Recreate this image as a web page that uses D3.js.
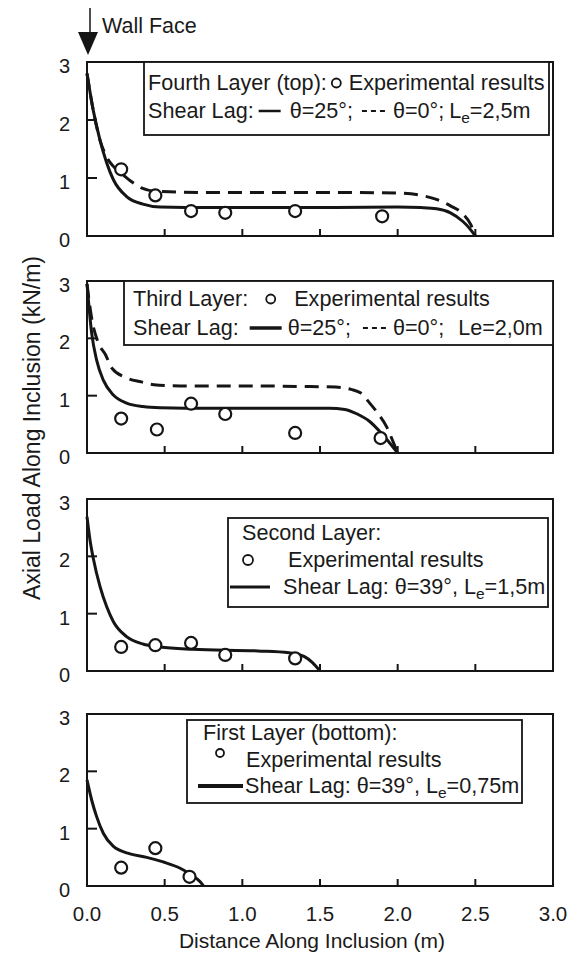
<!DOCTYPE html>
<html><head><meta charset="utf-8">
<script src="https://cdn.jsdelivr.net/npm/d3@7"></script>
<style>
html,body{margin:0;padding:0;background:#fff;}
svg{display:block;font-family:"Liberation Sans",Arial,Helvetica,sans-serif;}
text{fill:#1a1a1a;}
</style></head>
<body>
<svg id="c" width="571" height="955"></svg>
<script>
// ---------- data ----------
const xTicks = [0.0, 0.5, 1.0, 1.5, 2.0, 2.5, 3.0];
const yTicks = [0, 1, 2, 3];
const xTickLabels = ["0.0", "0.5", "1.0", "1.5", "2.0", "2.5", "3.0"];
const yTickLabels = ["0", "1", "2", "3"];

// Fourth layer (top)
const l4ExpX = [0.22, 0.44, 0.67, 0.89, 1.34, 1.90];
const l4ExpY = [1.15, 0.70, 0.43, 0.40, 0.43, 0.34];
const l4SolidX = [0, 0.04, 0.084, 0.127, 0.17, 0.255, 0.36, 0.47, 0.8, 1.2, 1.6, 2.0, 2.15, 2.25, 2.34, 2.42, 2.46, 2.5];
const l4SolidY = [2.8, 2.17, 1.65, 1.26, 0.97, 0.68, 0.55, 0.50, 0.49, 0.49, 0.49, 0.50, 0.49, 0.47, 0.40, 0.25, 0.14, 0.0];
const l4DashX = [0, 0.04, 0.084, 0.127, 0.17, 0.23, 0.29, 0.35, 0.45, 0.8, 1.2, 1.6, 2.0, 2.15, 2.25, 2.34, 2.42, 2.47, 2.5];
const l4DashY = [2.8, 2.17, 1.65, 1.36, 1.20, 1.06, 0.93, 0.83, 0.77, 0.75, 0.75, 0.75, 0.74, 0.70, 0.63, 0.52, 0.38, 0.20, 0.0];

// Third layer
const l3ExpX = [0.22, 0.45, 0.67, 0.89, 1.34, 1.89];
const l3ExpY = [0.60, 0.41, 0.86, 0.68, 0.35, 0.26];
const l3SolidX = [0, 0.03, 0.062, 0.105, 0.17, 0.255, 0.36, 0.47, 0.8, 1.2, 1.56, 1.66, 1.74, 1.82, 1.89, 1.95, 2.0];
const l3SolidY = [2.95, 2.09, 1.62, 1.27, 1.01, 0.87, 0.81, 0.79, 0.78, 0.78, 0.78, 0.76, 0.68, 0.55, 0.36, 0.17, 0.0];
const l3DashX = [0, 0.03, 0.07, 0.12, 0.16, 0.255, 0.35, 0.43, 0.6, 1.0, 1.4, 1.6, 1.7, 1.76, 1.82, 1.87, 1.93, 1.97, 2.0];
const l3DashY = [2.95, 2.35, 1.94, 1.71, 1.48, 1.31, 1.24, 1.19, 1.17, 1.17, 1.16, 1.15, 1.11, 1.05, 0.87, 0.70, 0.45, 0.20, 0.0];

// Second layer
const l2ExpX = [0.22, 0.44, 0.67, 0.89, 1.34];
const l2ExpY = [0.42, 0.45, 0.49, 0.28, 0.22];
const l2SolidX = [0, 0.019, 0.04, 0.084, 0.127, 0.17, 0.255, 0.36, 0.47, 0.68, 1.1, 1.3, 1.4, 1.45, 1.5];
const l2SolidY = [2.69, 2.29, 1.97, 1.47, 1.12, 0.86, 0.60, 0.47, 0.42, 0.38, 0.35, 0.32, 0.25, 0.15, 0.0];

// First layer (bottom)
const l1ExpX = [0.22, 0.44, 0.66];
const l1ExpY = [0.32, 0.66, 0.16];
const l1SolidX = [0, 0.03, 0.062, 0.105, 0.17, 0.277, 0.384, 0.49, 0.6, 0.674, 0.73, 0.75];
const l1SolidY = [1.85, 1.50, 1.21, 0.92, 0.69, 0.56, 0.50, 0.42, 0.31, 0.19, 0.07, 0.0];

// ---------- layout ----------
const svg = d3.select("#c");
const INK = "#151515";
const FS = 21.6;
const x = d3.scaleLinear().domain([0, 3]).range([87, 553]);

const panels = [
  { top: 62, bottom: 236, exp: [l4ExpX, l4ExpY], solid: [l4SolidX, l4SolidY], dash: [l4DashX, l4DashY] },
  { top: 281, bottom: 453, exp: [l3ExpX, l3ExpY], solid: [l3SolidX, l3SolidY], dash: [l3DashX, l3DashY] },
  { top: 499, bottom: 671, exp: [l2ExpX, l2ExpY], solid: [l2SolidX, l2SolidY] },
  { top: 714, bottom: 886, exp: [l1ExpX, l1ExpY], solid: [l1SolidX, l1SolidY] }
];

const zip = (a, b) => a.map((v, i) => [v, b[i]]);

panels.forEach((p) => {
  const y = d3.scaleLinear().domain([0, 3]).range([p.bottom, p.top]);
  const g = svg.append("g");
  g.append("rect").attr("x", x(0)).attr("y", y(3)).attr("width", x(3) - x(0)).attr("height", y(0) - y(3))
    .attr("fill", "none").attr("stroke", INK).attr("stroke-width", 2);
  g.selectAll(".xt").data(xTicks.filter(v => v > 0 && v < 3)).enter().append("line")
    .attr("x1", d => x(d)).attr("x2", d => x(d)).attr("y1", y(0)).attr("y2", y(0) - 7)
    .attr("stroke", INK).attr("stroke-width", 2);
  g.selectAll(".yt").data(yTicks.filter(v => v > 0 && v < 3)).enter().append("line")
    .attr("x1", x(0)).attr("x2", x(0) + 10).attr("y1", d => y(d)).attr("y2", d => y(d))
    .attr("stroke", INK).attr("stroke-width", 2);
  g.selectAll(".yl").data(yTicks).enter().append("text")
    .attr("x", 70).attr("y", d => y(d) + 11).attr("text-anchor", "end")
    .style("font-size", "20px").text((d, i) => yTickLabels[i]);

  const line = d3.line().x(d => x(d[0])).y(d => y(d[1])).curve(d3.curveMonotoneX);
  if (p.dash) {
    g.append("path").attr("d", line(zip(p.dash[0], p.dash[1])))
      .attr("fill", "none").attr("stroke", INK).attr("stroke-width", 3)
      .attr("stroke-dasharray", "14,8");
  }
  g.append("path").attr("d", line(zip(p.solid[0], p.solid[1])))
    .attr("fill", "none").attr("stroke", INK).attr("stroke-width", 3);
  g.selectAll(".pt").data(zip(p.exp[0], p.exp[1])).enter().append("circle")
    .attr("cx", d => x(d[0])).attr("cy", d => y(d[1])).attr("r", 6)
    .attr("fill", "#fff").attr("stroke", INK).attr("stroke-width", 2.2);
});

// x tick labels (bottom panel only)
svg.selectAll(".xl").data(xTicks).enter().append("text")
  .attr("x", d => x(d)).attr("y", 921).attr("text-anchor", "middle")
  .style("font-size", "20.5px").text((d, i) => xTickLabels[i]);

// axis titles
svg.append("text").attr("x", 312).attr("y", 948).attr("text-anchor", "middle")
  .style("font-size", "21px").text("Distance Along Inclusion (m)");
svg.append("text").attr("transform", "translate(40,428) rotate(-90)").attr("text-anchor", "middle")
  .style("font-size", "23px").text("Axial Load Along Inclusion (kN/m)");

// Wall face marker
svg.append("line").attr("x1", 90).attr("x2", 90).attr("y1", 8).attr("y2", 34)
  .attr("stroke", INK).attr("stroke-width", 1.5);
svg.append("path").attr("d", "M78,32 L98,32 L88,55 Z").attr("fill", INK);
svg.append("text").attr("x", 102).attr("y", 33).style("font-size", "21.5px").text("Wall Face");

// ---------- legends ----------
function box(x0, y0, x1, y1) {
  svg.append("rect").attr("x", x0).attr("y", y0).attr("width", x1 - x0).attr("height", y1 - y0)
    .attr("fill", "#fff").attr("stroke", INK).attr("stroke-width", 1.8);
}
function flow(x0, yb, parts) {
  let cx = x0;
  parts.forEach(p => {
    if (p.t !== undefined) {
      const t = svg.append("text").attr("x", cx).attr("y", yb + (p.sub ? 5 : 0))
        .style("font-size", (p.sub ? 15.5 : FS) + "px").text(p.t);
      cx += t.node().getComputedTextLength();
    } else if (p.line) {
      svg.append("line").attr("x1", cx).attr("x2", cx + p.line).attr("y1", yb - 7).attr("y2", yb - 7)
        .attr("stroke", INK).attr("stroke-width", p.sw || 3).attr("stroke-dasharray", p.dash || null);
      cx += p.line;
    } else if (p.circle) {
      svg.append("circle").attr("cx", cx + p.circle).attr("cy", yb - (p.cy || 7)).attr("r", p.circle)
        .attr("fill", "none").attr("stroke", INK).attr("stroke-width", 1.8);
      cx += 2 * p.circle;
    } else if (p.gap) {
      cx += p.gap;
    }
  });
}

// Panel 1 legend
box(144, 62, 549, 135);
flow(148, 90, [{ t: "Fourth Layer (top):" }, { gap: 5 }, { circle: 4.5 }, { gap: 8 }, { t: "Experimental results" }]);
flow(148, 118, [{ t: "Shear Lag:" }, { gap: 5 }, { line: 22, sw: 2.5 }, { gap: 9 }, { t: "θ=25°;" }, { gap: 9 },
  { line: 26, sw: 2, dash: "5,4" }, { gap: 5 }, { t: "θ=0°;" }, { gap: 5 }, { t: "L" }, { t: "e", sub: true }, { t: "=2,5m" }]);

// Panel 2 legend
box(124, 281, 553, 345);
flow(133, 306, [{ t: "Third Layer:" }, { gap: 18 }, { circle: 4.5 }, { gap: 19 }, { t: "Experimental results" }]);
flow(133, 335, [{ t: "Shear Lag:" }, { gap: 11 }, { line: 32, sw: 3.5 }, { gap: 6 }, { t: "θ=25°;" }, { gap: 12 },
  { line: 27, sw: 2, dash: "5,4" }, { gap: 3 }, { t: "θ=0°;" }, { gap: 14 }, { t: "Le=2,0m" }]);

// Panel 3 legend
box(228, 518, 548, 607);
flow(242, 540, [{ t: "Second Layer:" }]);
flow(243, 567, [{ circle: 5 }, { gap: 35 }, { t: "Experimental results" }]);
flow(230, 594, [{ line: 40, sw: 3 }, { gap: 13 }, { t: "Shear Lag: θ=39°, L" }, { t: "e", sub: true }, { t: "=1,5m" }]);

// Panel 4 legend
box(187, 720, 522, 803);
flow(203, 740, [{ t: "First Layer (bottom):" }]);
flow(216, 767, [{ circle: 4, cy: 14 }, { gap: 22 }, { t: "Experimental results" }]);
flow(198, 793, [{ line: 45, sw: 4 }, { gap: 2 }, { t: "Shear Lag: θ=39°, L" }, { t: "e", sub: true }, { t: "=0,75m" }]);
</script>
</body></html>
